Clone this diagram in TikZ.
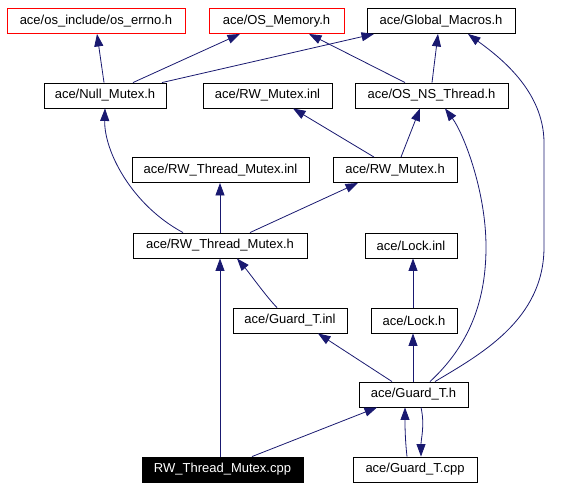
\documentclass[tikz,border=0pt]{standalone}
\usepackage{fontspec}
\setmainfont{Liberation Sans}
\usetikzlibrary{arrows.meta,calc}
\definecolor{edgeblue}{HTML}{191970}
\begin{document}
\begin{tikzpicture}[x=1pt,y=-1pt,
  box/.style={draw=black,line width=0.9pt,inner sep=0pt,minimum height=25pt,fill=white,
    font=\fontsize{13}{15}\selectfont,text=black},
  redbox/.style={box,draw=red},
  blackbox/.style={box,fill=black,text=white},
  dep/.style={draw=edgeblue,line width=0.8pt,-{Triangle[length=12.5pt,width=9pt]},fill=none},
]
\useasboundingbox (0,0) rectangle (564,488);
% row 1
\node[redbox,minimum width=178pt] (errno) at (96,21) {ace/os\_include/os\_errno.h};
\node[redbox,minimum width=135pt] (mem) at (276.5,21) {ace/OS\_Memory.h};
\node[box,minimum width=148pt] (glob) at (441,21) {ace/Global\_Macros.h};
% row 2
\node[box,minimum width=122pt] (null) at (105,95.5) {ace/Null\_Mutex.h};
\node[box,minimum width=129pt] (rwinl) at (267.5,95.5) {ace/RW\_Mutex.inl};
\node[box,minimum width=153pt] (osns) at (431.5,95.5) {ace/OS\_NS\_Thread.h};
% row 3
\node[box,minimum width=177pt] (rwtminl) at (220.5,170) {ace/RW\_Thread\_Mutex.inl};
\node[box,minimum width=124pt] (rwmh) at (395,170) {ace/RW\_Mutex.h};
% row 4
\node[box,minimum width=174pt] (rwtmh) at (220,245.5) {ace/RW\_Thread\_Mutex.h};
\node[box,minimum width=92pt] (lockinl) at (411,245.5) {ace/Lock.inl};
% row 5
\node[box,minimum width=114pt] (guardinl) at (290,320.5) {ace/Guard\_T.inl};
\node[box,minimum width=86pt] (lockh) at (414,320.5) {ace/Lock.h};
% row 6
\node[box,minimum width=109pt] (guardh) at (413.5,394.5) {ace/Guard\_T.h};
% row 7
\node[blackbox,minimum width=161pt] (cpp) at (222.5,469.5) {RW\_Thread\_Mutex.cpp};
\node[box,minimum width=124pt] (guardcpp) at (415,469.5) {ace/Guard\_T.cpp};

% edges
\draw[dep] ([xshift=-1pt]null.north) -- ([xshift=1pt]errno.south);
\draw[dep] ([xshift=28pt]null.north) -- ([xshift=-36.5pt]mem.south);
\draw[dep] ([xshift=57pt]null.north) -- ([xshift=-67pt]glob.south);
\draw[dep] ([xshift=-26.5pt]osns.north) -- ([xshift=32.5pt]mem.south);
\draw[dep] ([xshift=0.5pt]osns.north) -- ([xshift=-3pt]glob.south);
\draw[dep] ([xshift=-21pt]rwmh.north) -- ([xshift=25.5pt]rwinl.south);
\draw[dep] ([xshift=6pt]rwmh.north) -- ([xshift=-11.5pt]osns.south);
\draw[dep] ([xshift=-37pt]rwtmh.north) .. controls +(-52,-28) and +(-1,42) .. (null.south);
\draw[dep] (rwtmh.north) -- (rwtmh.north |- rwtminl.south);
\draw[dep] ([xshift=30pt]rwtmh.north) -- ([xshift=-37pt]rwmh.south);
\draw[dep] ([xshift=-13pt]guardinl.north) .. controls +(-10,-10) and +(12,14) .. ([xshift=17pt]rwtmh.south);
\draw[dep] ([xshift=-1pt]lockh.north) -- ([xshift=-1pt]lockh.north |- lockinl.south);
\draw[dep] ([xshift=-21.5pt]guardh.north) -- ([xshift=28pt]guardinl.south);
\draw[dep] ([xshift=-0.5pt]guardh.north) -- ([xshift=-0.5pt]guardh.north |- lockh.south);
\coordinate (c1) at (486,247);
\draw[dep] ([xshift=16.5pt]guardh.north) .. controls +(40,-37) and +(0,53) .. (c1)
   .. controls +(0,-57) and +(18,24) .. ([xshift=13.5pt]osns.south);
\coordinate (c2) at (544,247);
\coordinate (c3) at (544,143);
\draw[dep] ([xshift=21.5pt]guardh.north) .. controls +(45,-27) and +(0,73) .. (c2)
   -- (c3) .. controls +(0,-53) and +(30,22) .. ([xshift=27pt]glob.south);
\draw[dep] (rwtmh.south |- cpp.north) -- (rwtmh.south);
\draw[dep] ([xshift=29.5pt]cpp.north) -- ([xshift=-36.5pt]guardh.south);
\draw[dep] ([xshift=-8pt]guardcpp.north) .. controls +(-2,-18) and +(0,18) .. ([xshift=-8.5pt]guardh.south);
\draw[dep] ([xshift=7.5pt]guardh.south) .. controls +(4,18) and +(0,-18) .. ([xshift=6pt]guardcpp.north);
\end{tikzpicture}
\end{document}
